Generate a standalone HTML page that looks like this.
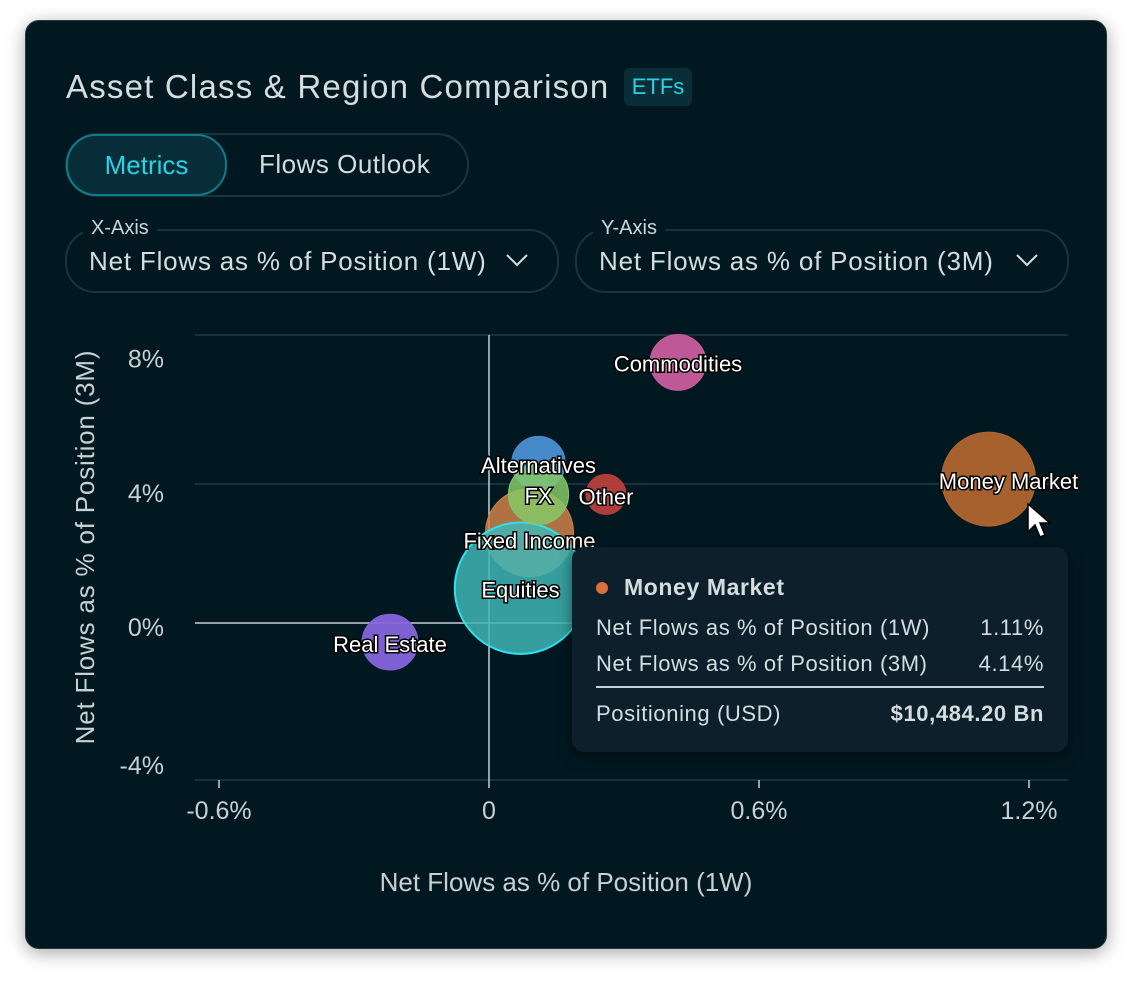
<!DOCTYPE html>
<html><head><meta charset="utf-8">
<style>
html,body{margin:0;padding:0;background:#fff;}
body{width:1144px;height:990px;position:relative;overflow:hidden;font-family:"Liberation Sans",sans-serif;}
.card{position:absolute;left:25px;top:20px;width:1080px;height:927px;background:#021820;border:1px solid #24363e;border-radius:14px;box-shadow:0 4px 18px rgba(0,0,0,0.35);}
.title{position:absolute;left:40px;top:47px;font-size:33px;color:#d6dde0;letter-spacing:1.2px;}
.badge{position:absolute;left:598px;top:47px;width:68px;height:38px;background:#0a2e38;border-radius:6px;color:#27d3e4;font-size:22px;text-align:center;line-height:38px;}
.seg{position:absolute;left:39px;top:112px;width:400px;height:60px;border:2px solid #173540;border-radius:32px;}
.seg .on{position:absolute;left:-1px;top:-1px;width:157px;height:58px;border:2px solid #117a8a;border-radius:30px;background:#062d38;color:#27d3e4;font-size:26px;text-align:center;line-height:58px;}
.seg .off{position:absolute;left:192px;top:0;height:58px;line-height:58px;color:#d6dde0;font-size:26px;letter-spacing:0.5px;}
.sel{position:absolute;top:208px;width:490px;height:60px;border:2px solid #173540;border-radius:30px;}
.sel .lab{position:absolute;left:16px;top:-14px;background:#021820;padding:0 8px;color:#cdd5d8;font-size:20px;}
.sel .val{position:absolute;left:22px;top:0;line-height:60px;color:#d6dde0;font-size:26px;letter-spacing:0.8px;}
.sel svg{position:absolute;right:28px;top:22px;}
.tt div{white-space:nowrap}
</style></head><body>
<div class="card">
 <div class="title">Asset Class &amp; Region Comparison</div>
 <div class="badge">ETFs</div>
 <div class="seg">
  <div class="on">Metrics</div>
  <div class="off">Flows Outlook</div>
 </div>
 <div class="sel" style="left:39px">
  <div class="lab">X-Axis</div>
  <div class="val">Net Flows as % of Position (1W)</div>
  <svg width="24" height="14"><path d="M2 2 L12 12 L22 2" stroke="#d6dde0" stroke-width="2" fill="none"/></svg>
 </div>
 <div class="sel" style="left:549px">
  <div class="lab">Y-Axis</div>
  <div class="val">Net Flows as % of Position (3M)</div>
  <svg width="24" height="14"><path d="M2 2 L12 12 L22 2" stroke="#d6dde0" stroke-width="2" fill="none"/></svg>
 </div>
</div>
<svg id="chart" width="1144" height="990" style="position:absolute;left:0;top:0"></svg>
<script>
const names=["Commodities","Alternatives","Other","Fixed Income","Equities","FX","Real Estate","Money Market"];
const xVals=[0.42,0.11,0.26,0.09,0.07,0.11,-0.22,1.11];
const yVals=[7.5,4.6,3.7,2.6,1.0,3.7,-0.55,4.14];
const sizes=[3700,3400,1900,9200,20500,4300,3700,10484.2];
const colors=["#c95c9e","#4a8fd2","#b8403d","#d0834a","#3fb6b6","#86c866","#8564dc","#b0652f"];
const xTicks=[-0.6,0,0.6,1.2];
const xTickLabels=["-0.6%","0","0.6%","1.2%"];
const yTicks=[8,4,0,-4];
const yTickLabels=["8%","4%","0%","-4%"];
const NS="http://www.w3.org/2000/svg";
const svg=document.getElementById('chart');
const X=v=>489+v*450, Y=v=>623-v*34.75, R=s=>47*Math.sqrt(s/10484.2);
function mk(t,a,p){const e=document.createElementNS(NS,t);for(const k in a)e.setAttribute(k,a[k]);(p||svg).appendChild(e);return e;}
[335,484,623,780].forEach((gy,i)=>{const l=mk('line',{x1:195,x2:1068,y1:gy,y2:gy,stroke:gy===623?'#c8d0d4':'#1e3a46','stroke-width':1.5});

});
const vl=mk('line',{x1:X(0),x2:X(0),y1:335,y2:780,stroke:'#c8d0d4','stroke-width':1.5});


xTicks.forEach((v,i)=>{const tk=mk('line',{x1:X(v),x2:X(v),y1:780,y2:788,stroke:'#c8d0d4','stroke-width':1.5});


const t=mk('text',{x:X(v),y:819,fill:'#c8d0d4','font-size':25,'text-anchor':'middle','font-family':'Liberation Sans'});t.textContent=xTickLabels[i];

});
yTicks.forEach((v,i)=>{const t=mk('text',{x:164,y:Y(v)+13+(v>0?v*1.2:v*0.2),fill:'#c8d0d4','font-size':25,'text-anchor':'end','font-family':'Liberation Sans'});t.textContent=yTickLabels[i];

});
const xt=mk('text',{x:566,y:891,fill:'#c8d0d4','font-size':26,'text-anchor':'middle','font-family':'Liberation Sans'});xt.textContent='Net Flows as % of Position (1W)';


const yt=mk('text',{x:0,y:0,fill:'#c8d0d4','font-size':26,'text-anchor':'middle','font-family':'Liberation Sans',transform:'translate(94,547) rotate(-90)','letter-spacing':'0.8'});yt.textContent='Net Flows as % of Position (3M)';


const order=[0,1,2,3,4,5,6,7];
order.forEach(i=>{const c=mk('circle',{cx:X(xVals[i]),cy:Y(yVals[i]),r:R(sizes[i]),fill:colors[i],'fill-opacity':i===4||i===5||i===3?0.85:0.95,stroke:i===4?'#2fe0f0':colors[i],'stroke-width':i===4?2:1});

});
const lOff={"Commodities":9,"Alternatives":10,"Other":10,"Fixed Income":16,"Equities":9,"FX":9,"Real Estate":10,"Money Market":10};
order.forEach(i=>{const t=mk('text',{x:X(xVals[i])+(names[i]==="Money Market"?20:0),y:Y(yVals[i])+lOff[names[i]],fill:'#fff','font-size':22,'text-anchor':'middle','font-family':'Liberation Sans',stroke:'#000','stroke-width':3,'paint-order':'stroke'});t.textContent=names[i];

});
</script>
<div class="tt" style="position:absolute;left:572px;top:547px;width:496px;height:205px;background:#0c1f2a;border-radius:12px;box-shadow:0 4px 14px rgba(0,0,0,0.5);color:#d6dde0;font-size:22px;letter-spacing:0.6px;">
 <div style="position:absolute;left:24px;top:35px;width:12px;height:12px;border-radius:6px;background:#d8703a"></div>
 <div style="position:absolute;left:52px;top:27px;font-weight:bold;font-size:23px">Money Market</div>
 <div style="position:absolute;left:24px;top:68px">Net Flows as % of Position (1W)</div>
 <div style="position:absolute;right:24px;top:68px">1.11%</div>
 <div style="position:absolute;left:24px;top:104px">Net Flows as % of Position (3M)</div>
 <div style="position:absolute;right:24px;top:104px">4.14%</div>
 <div style="position:absolute;left:24px;right:24px;top:139px;border-top:2px solid #c8d0d4"></div>
 <div style="position:absolute;left:24px;top:154px">Positioning (USD)</div>
 <div style="position:absolute;right:24px;top:154px;font-weight:bold">$10,484.20 Bn</div>
</div>
<svg width="30" height="40" style="position:absolute;left:1026px;top:502px"><path d="M2 2 L2 30 L9 23 L14 35 L19 33 L14 21 L24 21 Z" fill="#fff" stroke="#000" stroke-width="1.5"/></svg>
</body></html>
